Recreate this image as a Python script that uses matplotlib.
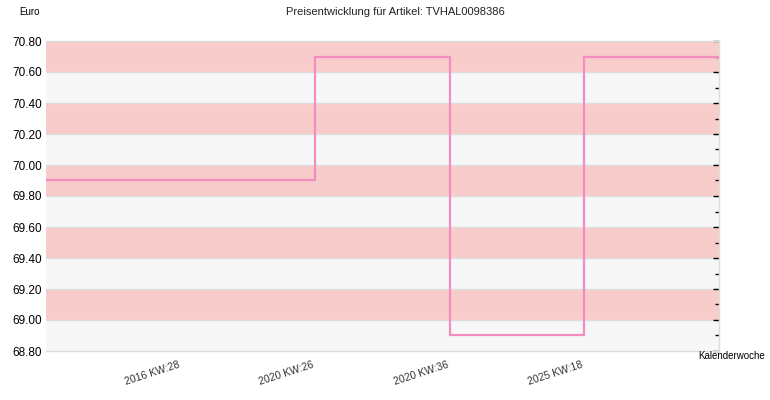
import matplotlib
matplotlib.use("Agg")
import matplotlib.pyplot as plt
from matplotlib.ticker import MultipleLocator

plt.rcParams["font.family"] = ["Liberation Sans", "DejaVu Sans"]

# step positions (0 = left edge, 5 = right edge)
positions = [0, 1, 2, 3, 4, 5]
prices = [69.90, 69.90, 70.70, 68.90, 70.70, 70.70]
tick_positions = [1, 2, 3, 4]
tick_labels = ["2016 KW:28", "2020 KW:26", "2020 KW:36", "2025 KW:18"]
y_min, y_max = 68.80, 70.80
band_edges = [68.80, 69.00, 69.20, 69.40, 69.60, 69.80, 70.00, 70.20, 70.40, 70.60, 70.80]

fig = plt.figure(figsize=(7.7, 4.0), dpi=100)
ax = fig.add_axes([46 / 770, 1 - 351 / 400, 673 / 770, 310 / 400])

# alternating background bands, top band pink
for i in range(len(band_edges) - 1):
    color = "#f9cccc" if i % 2 == 1 else "#f7f7f7"
    ax.axhspan(band_edges[i], band_edges[i + 1], color=color, lw=0, zorder=0)
for e in band_edges[1:-1]:
    ax.axhline(e, color="#dddddd", lw=1, zorder=1)

ax.step(positions, prices, where="post", color="#f48cc0", lw=1.6, zorder=3)

ax.set_xlim(positions[0], positions[-1])
ax.set_ylim(y_min, y_max)

ax.set_xticks(tick_positions)
ax.set_xticklabels(tick_labels, rotation=18, ha="right", fontsize=7.5,
                   color="#333333")
ax.tick_params(axis="x", length=0, pad=6)

ax.yaxis.set_major_locator(MultipleLocator(0.2))
ax.yaxis.set_minor_locator(MultipleLocator(0.1))
ax.yaxis.set_major_formatter(plt.FuncFormatter(lambda v, _: f"{v:.2f}"))
ax.tick_params(axis="y", which="both", left=False, right=True, direction="in",
               labelleft=True, labelright=False, labelsize=8.5, color="black",
               width=1, pad=3)
ax.tick_params(axis="y", which="major", length=4)
ax.tick_params(axis="y", which="minor", length=3)

for s in ax.spines.values():
    s.set_color("#dddddd")
    s.set_linewidth(1)
ax.spines["left"].set_visible(False)

fig.text(395 / 770, 1 - 12 / 400, "Preisentwicklung für Artikel: TVHAL0098386",
         ha="center", va="center", fontsize=8, color="#222222")
fig.text(30 / 770, 1 - 12 / 400, "Euro", ha="center", va="center", fontsize=7)
fig.text(732 / 770, 1 - 356 / 400, "Kalenderwoche", ha="center", va="center",
         fontsize=7)

fig.savefig("out.png", dpi=100)
